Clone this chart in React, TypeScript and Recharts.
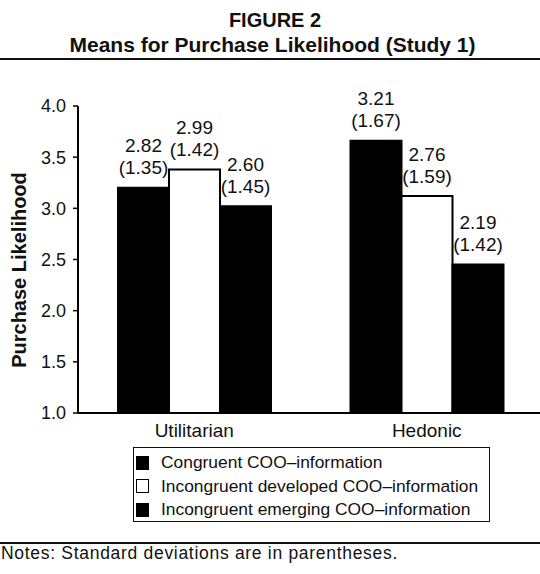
import React from 'react';
import { BarChart, Bar, XAxis, YAxis, LabelList } from 'recharts';

const categories = ['Utilitarian', 'Hedonic'];
const seriesNames = [
  'Congruent COO\u2013information',
  'Incongruent developed COO\u2013information',
  'Incongruent emerging COO\u2013information',
];
// bar heights as drawn in the figure (axis 1.0-4.0)
const congruentBar = [3.2, 3.66];
const developedBar = [3.38, 3.12];
const emergingBar = [3.02, 2.45];
// printed means and standard deviations
const congruentMean = ['2.82', '3.21'];
const congruentSD = ['1.35', '1.67'];
const developedMean = ['2.99', '2.76'];
const developedSD = ['1.42', '1.59'];
const emergingMean = ['2.60', '2.19'];
const emergingSD = ['1.45', '1.42'];
const yTicks = [1.0, 1.5, 2.0, 2.5, 3.0, 3.5, 4.0];

const FONT = '"Liberation Sans", Arial, Helvetica, sans-serif';

const rows = categories.map((c, i) => ({
  name: c,
  congruent: congruentBar[i],
  developed: developedBar[i],
  emerging: emergingBar[i],
  congruentLabel: `${congruentMean[i]}|(${congruentSD[i]})`,
  developedLabel: `${developedMean[i]}|(${developedSD[i]})`,
  emergingLabel: `${emergingMean[i]}|(${emergingSD[i]})`,
}));

const TwoLineLabel = (props: any) => {
  const { x, y, width, value } = props;
  const parts = String(value).split('|');
  const cx = Number(x) + Number(width) / 2;
  const top = Number(y);
  return (
    <g>
      <text x={cx} y={top - 42} textAnchor="middle" dominantBaseline="central" fontFamily={FONT} fontSize={19} fill="#111">
        {parts[0]}
      </text>
      <text x={cx} y={top - 20} textAnchor="middle" dominantBaseline="central" fontFamily={FONT} fontSize={19} fill="#111">
        {parts[1]}
      </text>
    </g>
  );
};

const legendFills = ['#000', '#fff', '#000'];

export default function App() {
  return (
    <div
      style={{
        position: 'absolute',
        left: 0,
        top: 0,
        width: 540,
        height: 574,
        overflow: 'hidden',
        background: '#fff',
        fontFamily: FONT,
        color: '#111',
      }}
    >
      <div style={{ position: 'absolute', left: 0, top: 0, width: 540, height: 574 }}>
        <BarChart
          width={543}
          height={574}
          data={rows}
          margin={{ top: 106, right: 0, left: 0, bottom: 131 }}
          barGap={0}
        >
          <XAxis
            dataKey="name"
            height={30}
            tickLine={false}
            tickSize={6}
            tickMargin={5}
            axisLine={{ stroke: '#000', strokeWidth: 2 }}
            tick={{ fill: '#111', fontSize: 19, fontFamily: FONT }}
          />
          <YAxis
            width={78}
            type="number"
            domain={[1, 4]}
            ticks={yTicks}
            allowDataOverflow
            tickFormatter={(v: number) => v.toFixed(1)}
            tickSize={5}
            tickMargin={7}
            axisLine={{ stroke: '#000', strokeWidth: 2 }}
            tickLine={{ stroke: '#000', strokeWidth: 1.5 }}
            tick={{ fill: '#111', fontSize: 18, fontFamily: FONT }}
          />
          <Bar dataKey="congruent" name={seriesNames[0]} barSize={51} fill="#000" stroke="#000" strokeWidth={2} isAnimationActive={false}>
            <LabelList dataKey="congruentLabel" content={TwoLineLabel} />
          </Bar>
          <Bar dataKey="developed" name={seriesNames[1]} barSize={51} fill="#fff" stroke="#000" strokeWidth={2} isAnimationActive={false}>
            <LabelList dataKey="developedLabel" content={TwoLineLabel} />
          </Bar>
          <Bar dataKey="emerging" name={seriesNames[2]} barSize={51} fill="#000" stroke="#000" strokeWidth={2} isAnimationActive={false}>
            <LabelList dataKey="emergingLabel" content={TwoLineLabel} />
          </Bar>
        </BarChart>
      </div>

      {/* Title */}
      <div style={{ position: 'absolute', left: 0, width: 550, top: 8, textAlign: 'center', fontWeight: 'bold', fontSize: 20, lineHeight: '24px' }}>
        FIGURE 2
      </div>
      <div style={{ position: 'absolute', left: 0, width: 545, top: 33, textAlign: 'center', fontWeight: 'bold', fontSize: 21, lineHeight: '24px' }}>
        Means for Purchase Likelihood (Study 1)
      </div>
      <div style={{ position: 'absolute', left: 0, width: 540, top: 58, height: 2, background: '#111' }} />

      {/* Y axis title */}
      <div
        style={{
          position: 'absolute',
          left: 19,
          top: 270,
          transform: 'translate(-50%, -50%) rotate(-90deg)',
          whiteSpace: 'nowrap',
          fontWeight: 'bold',
          fontSize: 20,
          lineHeight: '22px',
        }}
      >
        Purchase Likelihood
      </div>

      {/* Legend */}
      <div
        style={{
          position: 'absolute',
          left: 133,
          top: 447,
          width: 355,
          height: 73,
          border: '1.5px solid #111',
          boxSizing: 'content-box',
        }}
      >
        {seriesNames.map((s, i) => (
          <div key={s} style={{ position: 'absolute', left: 0, top: 3 + i * 23.5, height: 23, display: 'flex', alignItems: 'center', whiteSpace: 'nowrap', fontSize: 17.4 }}>
            <span
              style={{
                display: 'inline-block',
                width: 11,
                height: 12,
                marginLeft: 2,
                marginRight: 12,
                background: legendFills[i],
                border: '1.5px solid #000',
              }}
            />
            <span>{s}</span>
          </div>
        ))}
      </div>

      {/* Notes */}
      <div style={{ position: 'absolute', left: 0, width: 540, top: 542, height: 2, background: '#111' }} />
      <div style={{ position: 'absolute', left: 1, top: 543, fontSize: 17.5, letterSpacing: 0.7, lineHeight: '20px', whiteSpace: 'nowrap' }}>
        Notes: Standard deviations are in parentheses.
      </div>
    </div>
  );
}
